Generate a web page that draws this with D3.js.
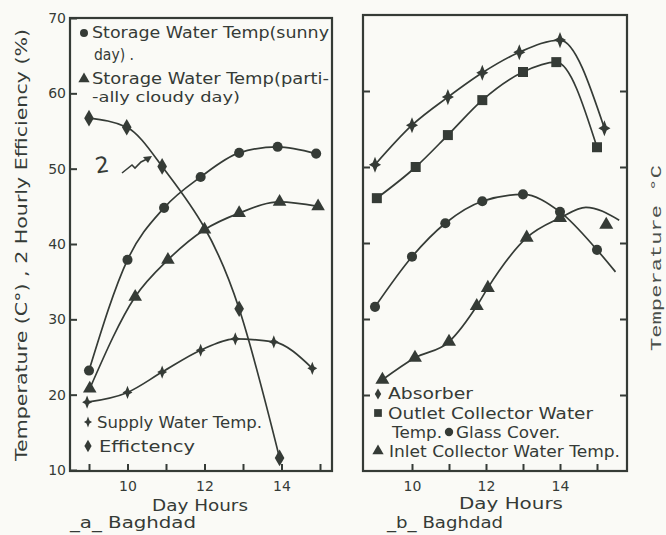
<!DOCTYPE html>
<html>
<head>
<meta charset="utf-8">
<script src="https://cdn.jsdelivr.net/npm/d3@7"></script>
<style>
  body { margin: 0; background: #fafaf6; }
  svg { display: block; }
  .tick text { font-family: 'DejaVu Sans', sans-serif; }
</style>
</head>
<body>
<div id="chart"></div>
<script>
// ---- data (hours, temperature / efficiency) ----
// panel a
const sunnyHours = [9.0, 10.0, 10.95, 11.9, 12.9, 13.9, 14.9];
const sunnyValues = [23.2, 37.9, 44.8, 48.9, 52.1, 52.9, 52.0];
const cloudyHours = [9.02, 10.2, 11.05, 12.0, 12.9, 13.95, 14.95];
const cloudyValues = [20.8, 33.0, 37.9, 41.9, 44.1, 45.6, 45.0];
const effHours = [9.0, 9.98, 10.9, 12.9, 13.95];
const effValues = [56.7, 55.5, 50.3, 31.4, 11.6];
const supplyHours = [8.95, 10.0, 10.9, 11.9, 12.8, 13.8, 14.8];
const supplyValues = [19.0, 20.3, 23.0, 25.9, 27.4, 27.0, 23.5];
// panel b
const absorberHours = [9.0, 10.0, 10.97, 11.9, 12.9, 14.0, 15.2];
const absorberValues = [50.3, 55.5, 59.2, 62.4, 65.1, 66.7, 55.1];
const outletHours = [9.05, 10.1, 10.97, 11.9, 13.0, 13.9, 15.0];
const outletValues = [45.9, 50.0, 54.2, 58.8, 62.5, 63.8, 52.6];
const glassHours = [9.0, 10.0, 10.9, 11.9, 13.0, 14.0, 15.0];
const glassValues = [31.6, 38.2, 42.6, 45.5, 46.4, 44.1, 39.1];
const glassTailHours = [15.5];
const glassTailValues = [36.2];
const inletHours = [9.2, 10.08, 11.0, 11.75, 12.05, 13.1, 14.0, 15.25];
const inletValues = [22.0, 24.9, 27.0, 31.7, 34.1, 40.7, 43.3, 42.4];
const inletTailHours = [14.7, 15.6];
const inletTailValues = [44.7, 43.0];
// ticks
const yTicks = [10, 20, 30, 40, 50, 60, 70];
const xTicksA = [9, 10, 11, 12, 13, 14, 15];
const xTicksB = [10, 11, 12, 13, 14, 15];
const xLabels = [10, 12, 14];

const ink = '#353b36';
const W = 666, H = 535;

const svg = d3.select('#chart').append('svg')
    .attr('width', W)
    .attr('height', H);

// four point star used for supply water / absorber
const star4 = {
    draw(ctx, size) {
        const r = Math.sqrt(size) * 0.85, w = r * 0.28;
        ctx.moveTo(0, -r); ctx.lineTo(w, -w); ctx.lineTo(r * 0.75, 0); ctx.lineTo(w, w);
        ctx.lineTo(0, r); ctx.lineTo(-w, w); ctx.lineTo(-r * 0.75, 0); ctx.lineTo(-w, -w);
        ctx.closePath();
    }
};

function zip(hours, values) {
    return hours.map((h, i) => ({ h: h, v: values[i] }));
}

function drawSeries(g, x, y, pts, linePts, symbol, size) {
    const line = d3.line()
        .x(d => x(d.h))
        .y(d => y(d.v))
        .curve(d3.curveMonotoneX);
    g.append('path')
        .datum(linePts)
        .attr('d', line)
        .attr('fill', 'none')
        .attr('stroke', ink)
        .attr('stroke-width', 1.7);
    g.selectAll(null)
        .data(pts)
        .enter()
        .append('path')
        .attr('transform', d => `translate(${x(d.h)},${y(d.v)})`)
        .attr('d', d3.symbol().type(symbol).size(size))
        .attr('fill', ink);
}

function frameAndAxes(x, y, box, xTicks, showY, rightTicks) {
    const g = svg.append('g');
    g.append('rect')
        .attr('x', box[0]).attr('y', box[1])
        .attr('width', box[2] - box[0]).attr('height', box[3] - box[1])
        .attr('fill', 'none')
        .attr('stroke', ink)
        .attr('stroke-width', 2.2);

    const bottom = g.append('g')
        .attr('transform', `translate(0,${box[3]})`)
        .call(d3.axisBottom(x).tickValues(xTicks).tickSize(-7).tickPadding(10)
            .tickFormat(d => xLabels.includes(d) ? d : ''));
    const left = g.append('g')
        .attr('transform', `translate(${box[0]},0)`)
        .call(d3.axisLeft(y).tickValues(showY ? yTicks : yTicks.slice(1, -1)).tickSize(-7).tickPadding(4)
            .tickFormat(d => showY ? d : ''));
    const axes = [bottom, left];
    if (rightTicks) {
        axes.push(g.append('g')
            .attr('transform', `translate(${box[2]},0)`)
            .call(d3.axisRight(y).tickValues(yTicks.slice(1, -1)).tickSize(-7).tickFormat('')));
    }
    axes.forEach(a => {
        a.select('.domain').remove();
        a.selectAll('line').attr('stroke', ink).attr('stroke-width', 2);
        a.selectAll('text').attr('fill', ink).style('font-size', '14px');
    });
    return g;
}

function label(x, y, txt, size, len, anchor) {
    const t = svg.append('text')
        .attr('x', x).attr('y', y)
        .attr('fill', ink)
        .attr('text-anchor', anchor || 'start')
        .style('font-family', "'DejaVu Sans', sans-serif")
        .style('font-size', size + 'px')
        .text(txt);
    if (len) t.attr('textLength', len).attr('lengthAdjust', 'spacingAndGlyphs');
    return t;
}

function marker(x, y, symbol, size) {
    svg.append('path')
        .attr('transform', `translate(${x},${y})`)
        .attr('d', d3.symbol().type(symbol).size(size))
        .attr('fill', ink);
}

// ---------------- panel a ----------------
const xA = d3.scaleLinear().domain([9, 15]).range([89, 320]);
const yA = d3.scaleLinear().domain([10, 70]).range([470, 18]);
const gA = frameAndAxes(xA, yA, [70, 18, 332, 471], xTicksA, true, false);

drawSeries(gA, xA, yA, zip(sunnyHours, sunnyValues), zip(sunnyHours, sunnyValues), d3.symbolCircle, 80);
drawSeries(gA, xA, yA, zip(cloudyHours, cloudyValues), zip(cloudyHours, cloudyValues), d3.symbolTriangle, 80);
drawSeries(gA, xA, yA, zip(effHours, effValues), zip(effHours, effValues), d3.symbolDiamond, 80);
drawSeries(gA, xA, yA, zip(supplyHours, supplyValues), zip(supplyHours, supplyValues), star4, 60);

// efficiency symbol with a zig-zag arrow
label(95, 173, '2', 22, null).attr('transform', 'rotate(-8,100,165)');
svg.append('path')
    .attr('d', 'M122,173 L132,165 L135,168 L141,162 L149,158')
    .attr('fill', 'none').attr('stroke', ink).attr('stroke-width', 1.6);
svg.append('path')
    .attr('d', 'M152,156 L143,157 L148,163 Z')
    .attr('fill', ink);

// legends
marker(84, 33, d3.symbolCircle, 50);
label(92, 38, 'Storage Water Temp(sunny', 15, 237);
label(94, 60, 'day) .', 15, 40);
marker(84, 79, d3.symbolTriangle, 55);
label(92, 84, 'Storage Water Temp(parti-', 15, 237);
label(92, 102, '-ally cloudy day)', 14, 148);
marker(88, 422, star4, 40);
label(97, 428, 'Supply Water Temp.', 15, 165);
marker(88, 446, d3.symbolDiamond, 45);
label(99, 452, 'Effictency', 15, 96);

label(200, 511, 'Day Hours', 15, 96, 'middle');
label(70, 528, '_a_ Baghdad', 16, 126);

svg.append('text')
    .attr('transform', 'translate(27,245) rotate(-90)')
    .attr('text-anchor', 'middle')
    .attr('fill', ink)
    .attr('textLength', 432)
    .attr('lengthAdjust', 'spacingAndGlyphs')
    .style('font-family', "'DejaVu Sans', sans-serif")
    .style('font-size', '15px')
    .text('Temperature (C°) , 2 Hourly Efficiency (%)');

// ---------------- panel b ----------------
const xB = d3.scaleLinear().domain([10, 14]).range([412, 560]);
const yB = d3.scaleLinear().domain([10, 70]).range([471, 15]);
const gB = frameAndAxes(xB, yB, [363, 15, 627, 471], xTicksB, false, true);

drawSeries(gB, xB, yB, zip(absorberHours, absorberValues), zip(absorberHours, absorberValues), star4, 90);
drawSeries(gB, xB, yB, zip(outletHours, outletValues), zip(outletHours, outletValues), d3.symbolSquare, 100);
drawSeries(gB, xB, yB, zip(glassHours, glassValues),
    zip(glassHours.concat(glassTailHours), glassValues.concat(glassTailValues)), d3.symbolCircle, 80);
drawSeries(gB, xB, yB, zip(inletHours, inletValues),
    zip(inletHours.slice(0, -1).concat(inletTailHours), inletValues.slice(0, -1).concat(inletTailValues)),
    d3.symbolTriangle, 85);

marker(378, 394, d3.symbolDiamond, 35);
label(388, 399, 'Absorber', 15, 85);
marker(378, 413, d3.symbolSquare, 60);
label(388, 419, 'Outlet  Collector Water', 15, 205);
label(392, 438, 'Temp.', 15, 50);
marker(449, 432, d3.symbolCircle, 55);
label(456, 438, 'Glass Cover.', 15, 104);
marker(378, 451, d3.symbolTriangle, 55);
label(389, 457, 'Inlet Collector Water Temp.', 15, 231);

label(511, 509, 'Day  Hours', 15, 104, 'middle');
label(387, 528, '_b_ Baghdad', 16, 116);

svg.append('text')
    .attr('transform', 'translate(661,258) rotate(-90)')
    .attr('text-anchor', 'middle')
    .attr('fill', '#4a504b')
    .attr('textLength', 186)
    .attr('lengthAdjust', 'spacingAndGlyphs')
    .style('font-family', "'Liberation Mono', monospace")
    .style('font-size', '14px')
    .text('Temperature °C');
</script>
</body>
</html>
